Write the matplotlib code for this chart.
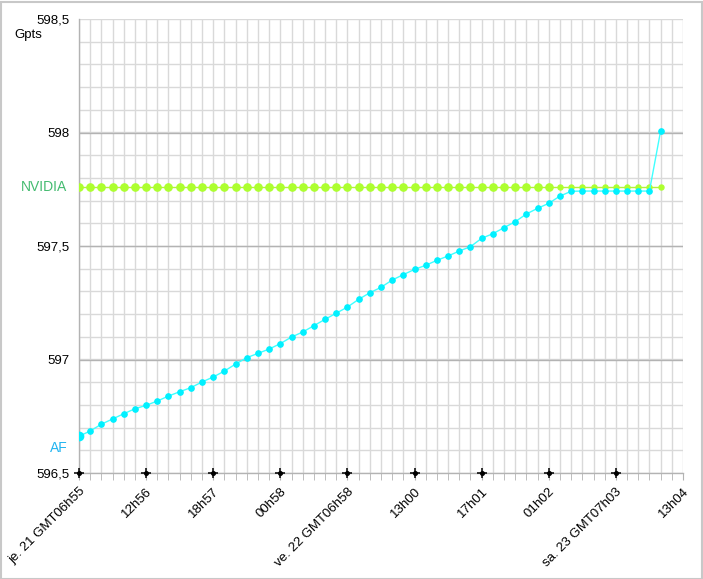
import matplotlib
matplotlib.use("Agg")
import matplotlib.pyplot as plt
import matplotlib.transforms as mtransforms
from matplotlib.patches import Rectangle
import numpy as np

plt.rcParams['font.family'] = ['Liberation Sans', 'DejaVu Sans']

# ---- data ----
x_tick_labels = ["je. 21 GMT06h55", "12h56", "18h57", "00h58", "ve. 22 GMT06h58",
                 "13h00", "17h01", "01h02", "sa. 23 GMT07h03", "13h04"]
y_ticks = [596.5, 597.0, 597.5, 598.0, 598.5]
y_tick_labels = ["596,5", "597", "597,5", "598", "598,5"]

af = [596.662, 596.685, 596.715, 596.738, 596.761, 596.783, 596.798, 596.817,
      596.839, 596.858, 596.876, 596.901, 596.923, 596.949, 596.980, 597.008,
      597.027, 597.046, 597.070, 597.099, 597.121, 597.149, 597.177, 597.204,
      597.231, 597.265, 597.294, 597.318, 597.350, 597.374, 597.397, 597.415,
      597.437, 597.456, 597.478, 597.497, 597.534, 597.554, 597.581, 597.607,
      597.641, 597.666, 597.688, 597.720, 597.741, 597.742, 597.742, 597.742,
      597.742, 597.742, 597.742, 597.742, 598.007]
nvidia = [597.758, 597.758, 597.758, 597.758, 597.758, 597.758, 597.758, 597.758,
          597.758, 597.758, 597.758, 597.758, 597.758, 597.758, 597.758, 597.758,
          597.758, 597.758, 597.758, 597.758, 597.758, 597.758, 597.758, 597.758,
          597.758, 597.758, 597.758, 597.758, 597.758, 597.758, 597.758, 597.758,
          597.758, 597.758, 597.758, 597.758, 597.758, 597.758, 597.758, 597.758,
          597.758, 597.758, 597.758, 597.758, 597.758, 597.758, 597.758, 597.758,
          597.758, 597.758, 597.758, 597.758, 597.758]
nvidia_big_count = 43   # first points drawn with larger markers
unit_label = "Gpts"

# ---- figure ----
W, H = 703, 579
fig = plt.figure(figsize=(W / 100, H / 100), dpi=100)
fig.patches.append(Rectangle((0.5 / W, 0.5 / H), 1 - 2 / W, 1 - 2 / H, transform=fig.transFigure,
                             fill=False, edgecolor='#c8c8c8', lw=1.5))
ax = fig.add_axes([79 / W, (H - 473) / H, 604 / W, 454 / H])

step = 6
n_slots = step * (len(x_tick_labels) - 1)
ax.set_xlim(0, n_slots)
ax.set_ylim(y_ticks[0], y_ticks[-1])

# grid
for i in range(n_slots + 1):
    ax.axvline(i, color='#d9d9d9', lw=1, zorder=0)
for v in np.arange(596.5, 598.51, 0.1):
    ax.axhline(v, color='#d9d9d9', lw=1, zorder=0)
for v in y_ticks[1:-1]:
    ax.axhline(v, color='#b3b3b3', lw=1, zorder=0.5)

for s in ['top', 'right']:
    ax.spines[s].set_visible(False)
for s in ['left', 'bottom']:
    ax.spines[s].set_color('#b3b3b3')
    ax.spines[s].set_linewidth(1)

xs = np.arange(len(af))
# NVIDIA
ax.plot(xs, nvidia, color='#b5f03c', lw=1, zorder=3)
ax.plot(xs[:nvidia_big_count], nvidia[:nvidia_big_count], ls='none', marker='o', ms=5.2,
        color='#adff2f', mec='#adff2f', zorder=4)
ax.plot(xs[nvidia_big_count:], nvidia[nvidia_big_count:], ls='none', marker='o', ms=3.6,
        color='#adff2f', mec='#adff2f', zorder=4)
# AF
ax.plot(xs, af, color='#40ffff', lw=1, zorder=5)
ax.plot(xs[1:], af[1:], ls='none', marker='o', ms=3.8, color='#00f0ff', mec='#00f0ff', zorder=6)
ax.plot(xs[:1], af[:1], ls='none', marker='o', ms=6, color='#00f0ff', mec='#00f0ff', zorder=6)

# ticks
major = list(range(0, n_slots + 1, step))
ax.set_xticks(major)
ax.set_xticklabels(x_tick_labels, rotation=45, ha='right', va='top', rotation_mode='anchor',
                   fontsize=9.5)
ax.set_xticks(range(n_slots + 1), minor=True)
ax.tick_params(axis='x', which='both', length=5, color='#b3b3b3', pad=4)
ax.set_yticks(y_ticks)
ax.set_yticklabels(y_tick_labels, fontsize=9.5)
ax.tick_params(axis='y', length=0, pad=7)
star_x = major[:-1]
ax.plot(star_x, [y_ticks[0]] * len(star_x), ls='none', marker='+', ms=7, mew=1.1, color='black',
        clip_on=False, zorder=10)
ax.plot(star_x, [y_ticks[0]] * len(star_x), ls='none', marker='o', ms=2.6, color='black',
        clip_on=False, zorder=10)

# labels
trans = mtransforms.blended_transform_factory(ax.transAxes, ax.transData)
ax.text(-12 / 604, nvidia[0], "NVIDIA", transform=trans, ha='right', va='center',
        fontsize=10, color='#44bb70')
ax.text(-11 / 604, 596.611, "AF", transform=trans, ha='right', va='center',
        fontsize=10, color='#22b4f0')
fig.text(14 / W, 1 - 35 / H, unit_label, ha='left', va='center', fontsize=9.5)

fig.savefig("out.png", dpi=100)
